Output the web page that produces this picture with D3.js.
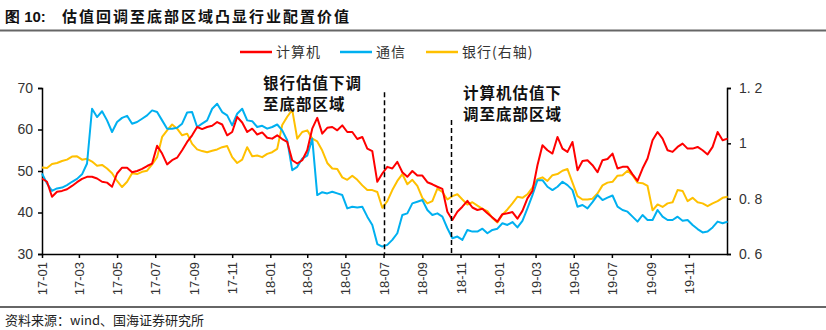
<!DOCTYPE html>
<html>
<head>
<meta charset="utf-8">
<script src="https://cdn.jsdelivr.net/npm/d3@7"></script>
<style>
  body { margin: 0; background: #fff; }
  svg { display: block; font-family: "Liberation Sans", Arial, sans-serif; }
  .cjk { font-family: "Noto Sans CJK SC", sans-serif; }
</style>
</head>
<body>
<div id="container"></div>
<script>
"use strict";

const width = 826;
const height = 330;

// one reading every 8 days, 2017-01-01 .. 2020-01-02
const startDate = new Date(2017, 0, 1);
const dates = d3.range(138).map(i => d3.timeDay.offset(startDate, i * 8));

// 计算机 (left axis)
const computer = [
  48.2, 47.4, 43.8, 45.0, 45.2, 45.6, 46.4, 47.3, 48.1, 48.6, 48.6, 48.2, 47.4, 47.2,
  46.2, 49.4, 50.8, 50.8, 49.7, 50.0, 50.5, 51.2, 51.8, 56.1, 54.2, 51.6, 52.6, 53.2,
  55.0, 57.0, 58.6, 60.6, 60.1, 60.6, 60.9, 61.8, 61.2, 58.6, 59.4, 63.0, 61.7, 59.4,
  60.2, 58.8, 59.3, 58.0, 57.8, 58.6, 57.7, 57.0, 52.6, 51.8, 52.6, 55.0, 60.2, 62.8,
  59.0, 60.4, 60.6, 59.8, 61.0, 59.4, 59.4, 57.7, 58.2, 55.4, 54.8, 47.4, 49.4, 51.0,
  50.6, 52.2, 49.7, 48.6, 50.0, 48.9, 48.9, 47.3, 46.8, 46.2, 45.7, 40.2, 38.2,
  40.2, 41.4, 42.8, 41.2, 40.6, 40.9, 39.8, 38.8, 37.8, 39.6, 39.8, 40.1, 38.5, 40.4,
  43.4, 45.2, 51.4, 56.2, 55.0, 54.2, 58.2, 55.4, 54.6, 57.0, 50.2, 52.4, 52.6, 51.4,
  49.7, 52.6, 52.9, 54.2, 50.6, 51.0, 51.0, 49.2, 47.6, 50.6, 53.0, 57.4, 59.4, 57.8,
  55.0, 54.6, 55.8, 56.6, 55.4, 55.4, 55.8, 55.0, 54.0, 55.8, 59.4, 57.4, 57.8
];

// 通信 (left axis)
const telecom = [
  49.4, 47.0, 45.2, 45.8, 46.0, 46.6, 47.4, 48.1, 49.2, 51.8, 65.0, 63.0, 64.4, 62.2,
  59.4, 61.8, 62.8, 63.3, 61.4, 61.8, 62.6, 63.4, 64.6, 64.2, 62.2, 60.2, 60.2, 60.4,
  61.4, 64.1, 64.2, 60.6, 61.4, 62.2, 65.0, 66.2, 64.2, 63.4, 61.0, 63.8, 65.0, 62.2,
  62.0, 60.6, 60.9, 60.2, 60.6, 61.2, 59.8, 57.4, 50.2, 51.0, 53.0, 53.7, 57.8, 44.2,
  44.9, 44.6, 45.0, 44.6, 44.2, 41.0, 41.4, 41.2, 41.4, 39.0, 37.0, 32.4, 31.8, 32.2,
  33.4, 35.0, 39.4, 39.8, 42.2, 42.6, 43.0, 40.6, 39.4, 39.8, 39.0, 36.2, 33.8,
  34.2, 33.4, 35.8, 35.4, 35.4, 36.1, 35.0, 35.8, 36.1, 37.4, 37.0, 37.7, 36.4, 38.0,
  41.0, 44.2, 47.8, 47.8, 46.2, 45.4, 46.2, 47.4, 46.6, 45.4, 41.4, 41.8, 41.0, 42.5,
  44.2, 43.0, 43.6, 44.1, 41.4, 40.6, 40.2, 39.0, 37.8, 39.4, 38.2, 38.2, 40.6, 39.0,
  38.2, 38.2, 39.0, 38.0, 38.2, 37.0, 36.0, 35.2, 35.4, 36.4, 37.8, 37.4, 37.8
];

// 银行 (right axis)
const bank = [
  0.913, 0.911, 0.925, 0.929, 0.936, 0.941, 0.952, 0.953, 0.941, 0.944, 0.934, 0.919, 0.922, 0.909,
  0.892, 0.864, 0.842, 0.861, 0.892, 0.889, 0.897, 0.901, 0.924, 0.950, 1.023, 1.047, 1.068, 1.053,
  1.029, 1.035, 0.998, 0.978, 0.972, 0.968, 0.973, 0.978, 0.986, 0.990, 0.950, 0.929, 0.941, 0.986,
  0.953, 0.956, 0.950, 0.962, 0.968, 0.980, 1.066, 1.096, 1.121, 1.017, 1.041, 1.047, 1.017, 1.007,
  0.974, 0.929, 0.909, 0.907, 0.877, 0.868, 0.883, 0.868, 0.848, 0.831, 0.831, 0.824, 0.767, 0.791,
  0.831, 0.864, 0.889, 0.852, 0.868, 0.846, 0.803, 0.783, 0.791, 0.836, 0.824, 0.797, 0.809,
  0.816, 0.797, 0.779, 0.787, 0.775, 0.763, 0.755, 0.730, 0.714, 0.742, 0.761, 0.783, 0.807, 0.803,
  0.816, 0.840, 0.870, 0.877, 0.864, 0.885, 0.889, 0.901, 0.907, 0.858, 0.809, 0.797, 0.797, 0.800,
  0.819, 0.848, 0.858, 0.861, 0.883, 0.885, 0.901, 0.885, 0.858, 0.856, 0.846, 0.758, 0.779, 0.770,
  0.783, 0.787, 0.831, 0.828, 0.791, 0.803, 0.787, 0.783, 0.773, 0.783, 0.791, 0.803, 0.807
];

const leftTicks = [30, 40, 50, 60, 70];
const rightTicks = [0.6, 0.8, 1.0, 1.2];
const rightTickLabels = ["0. 6", "0. 8", "1", "1. 2"];
const monthTicks = ["2017-01", "2017-03", "2017-05", "2017-07", "2017-09", "2017-11",
  "2018-01", "2018-03", "2018-05", "2018-07", "2018-09", "2018-11",
  "2019-01", "2019-03", "2019-05", "2019-07", "2019-09", "2019-11"];

// dashed markers: date and top (left-axis units)
const markerDates = ["2018-07-02", "2018-10-17"];
const markerTops = [69, 62.3];

const seriesNames = ["计算机", "通信", "银行(右轴)"];
const seriesColors = ["#FF0000", "#00B0F0", "#FFC000"];

const parseDay = d3.timeParse("%Y-%m-%d");
const parseMonth = d3.timeParse("%Y-%m");

const margin = { left: 42, right: 99, top: 88, bottom: 76 };

const svg = d3.select("#container").append("svg")
  .attr("width", width)
  .attr("height", height);

const x = d3.scaleTime()
  .domain([startDate, new Date(2020, 0, 1)])
  .range([margin.left, width - margin.right]);
const yL = d3.scaleLinear().domain([30, 70]).range([height - margin.bottom, margin.top]);
const yR = d3.scaleLinear().domain([0.6, 1.2]).range([height - margin.bottom, margin.top]);

// title + rules
svg.append("text")
  .attr("x", 5).attr("y", 22)
  .attr("font-size", 15).attr("font-weight", "bold").attr("fill", "#111")
  .text("图 10:");
svg.append("text")
  .attr("class", "cjk")
  .attr("x", 62).attr("y", 22)
  .attr("font-size", 15).attr("font-weight", "bold").attr("fill", "#111")
  .attr("letter-spacing", 2)
  .text("估值回调至底部区域凸显行业配置价值");
svg.append("line").attr("x1", 0).attr("x2", width).attr("y1", 30.5).attr("y2", 30.5)
  .attr("stroke", "#666").attr("stroke-width", 2);
svg.append("line").attr("x1", 0).attr("x2", width).attr("y1", 307).attr("y2", 307)
  .attr("stroke", "#666").attr("stroke-width", 2);
svg.append("text")
  .attr("class", "cjk")
  .attr("x", 5).attr("y", 325)
  .attr("font-size", 13).attr("fill", "#222")
  .text("资料来源：wind、国海证券研究所");

// legend
const legendX = [240, 340, 426];
seriesNames.forEach((name, i) => {
  const g = svg.append("g").attr("transform", `translate(${legendX[i]},52)`);
  g.append("line").attr("x1", 0).attr("x2", 32).attr("y1", 0).attr("y2", 0)
    .attr("stroke", seriesColors[i]).attr("stroke-width", 2.5);
  g.append("text").attr("class", "cjk")
    .attr("x", 36).attr("y", 5)
    .attr("font-size", 14).attr("fill", "#333").attr("letter-spacing", 1)
    .text(name);
});

// axes
const axisFont = g => g.selectAll("text").attr("font-size", 14).attr("fill", "#333")
  .attr("font-family", "'Liberation Sans', Arial, sans-serif");

svg.append("g")
  .attr("transform", `translate(${margin.left},0)`)
  .call(d3.axisLeft(yL).tickValues(leftTicks).tickSize(4).tickPadding(5).tickFormat(d3.format("d")))
  .call(axisFont)
  .call(g => g.select(".domain").attr("stroke", "#000").attr("stroke-width", 1.5))
  .call(g => g.selectAll(".tick line").attr("stroke", "#000").attr("stroke-width", 1.5));

svg.append("g")
  .attr("transform", `translate(${width - margin.right},0)`)
  .call(d3.axisRight(yR).tickValues(rightTicks).tickSize(4).tickPadding(8)
    .tickFormat((d, i) => rightTickLabels[i]))
  .call(axisFont)
  .call(g => g.select(".domain").attr("stroke", "#000").attr("stroke-width", 1.5))
  .call(g => g.selectAll(".tick line").attr("stroke", "#000").attr("stroke-width", 1.5));

svg.append("g")
  .attr("transform", `translate(0,${height - margin.bottom})`)
  .call(d3.axisBottom(x).tickValues(monthTicks.map(parseMonth)).tickSize(4).tickSizeOuter(0)
    .tickFormat(d3.timeFormat("%y-%m")))
  .call(g => g.select(".domain").attr("stroke", "#000").attr("stroke-width", 1.5))
  .call(g => g.selectAll(".tick line").attr("stroke", "#000").attr("stroke-width", 1.5))
  .call(g => g.selectAll("text")
    .attr("font-size", 13).attr("fill", "#333")
    .attr("transform", "rotate(-90)")
    .attr("text-anchor", "end")
    .attr("dx", "-8px").attr("dy", "-0.6em")
    .attr("y", 0).attr("x", 0)
    .attr("dy", "0.35em"));

// series
const lineL = d3.line().x((d, i) => x(dates[i])).y(d => yL(d));
const lineR = d3.line().x((d, i) => x(dates[i])).y(d => yR(d));

svg.append("path").datum(bank)
  .attr("fill", "none").attr("stroke", seriesColors[2]).attr("stroke-width", 2)
  .attr("stroke-linejoin", "round").attr("d", lineR);
svg.append("path").datum(telecom)
  .attr("fill", "none").attr("stroke", seriesColors[1]).attr("stroke-width", 2)
  .attr("stroke-linejoin", "round").attr("d", lineL);
svg.append("path").datum(computer)
  .attr("fill", "none").attr("stroke", seriesColors[0]).attr("stroke-width", 2)
  .attr("stroke-linejoin", "round").attr("d", lineL);

// dashed markers
markerDates.forEach((d, i) => {
  const mx = Math.round(x(parseDay(d))) + 0.5;
  svg.append("line")
    .attr("x1", mx).attr("x2", mx)
    .attr("y1", yL(markerTops[i])).attr("y2", yL(30))
    .attr("stroke", "#000").attr("stroke-width", 1.5)
    .attr("stroke-dasharray", "5,3");
});

// annotations
const notes = [
  { x: 263, y: 89, lines: ["银行估值下调", "至底部区域"] },
  { x: 463, y: 99, lines: ["计算机估值下", "调至底部区域"] }
];
notes.forEach(n => {
  n.lines.forEach((t, j) => {
    svg.append("text").attr("class", "cjk")
      .attr("x", n.x).attr("y", n.y + j * 21)
      .attr("font-size", 15.5).attr("font-weight", "bold").attr("fill", "#111")
      .attr("letter-spacing", 1)
      .text(t);
  });
});
</script>
</body>
</html>
